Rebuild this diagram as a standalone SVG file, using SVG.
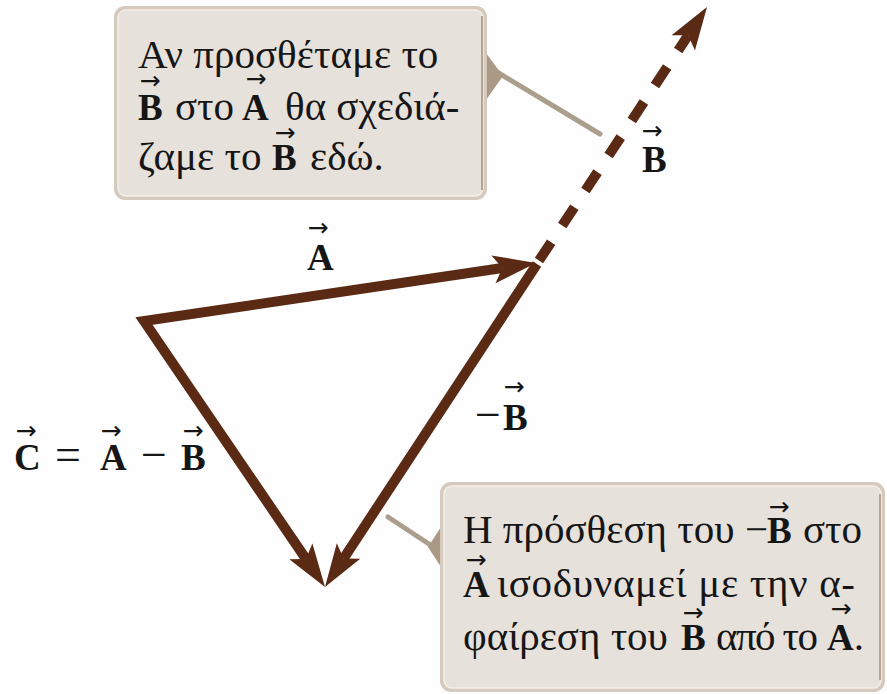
<svg xmlns="http://www.w3.org/2000/svg" xmlns:xlink="http://www.w3.org/1999/xlink" width="887" height="694" viewBox="0 0 887 694">
  <defs>
    <style>
      .vec { fill: none; stroke: #5b2a15; stroke-width: 10; stroke-linejoin: miter; stroke-linecap: butt; }
      .dash { stroke-dasharray: 22 20; }
      .head { fill: #5b2a15; }
      .leader { fill: none; stroke: #ab9e8c; stroke-width: 5; stroke-linecap: round; }
      .ptr { fill: #a99985; }
      .boxo { fill: #d5cabd; }
      .boxi { fill: #e7e1db; stroke: #f3efea; stroke-width: 1.5; }
      .edge { fill: none; stroke: #b3a592; stroke-width: 2; }
      .t { font-family: "Liberation Serif", "DejaVu Serif", serif; font-size: 41px; fill: #161616; }
      .b { font-size: 37px; font-weight: bold; }
      .lab { font-family: "Liberation Serif", "DejaVu Serif", serif; font-size: 37px; fill: #161616; font-weight: bold; }
      .op { font-weight: normal; font-size: 46px; }
      .arr { font-family: "DejaVu Sans", sans-serif; font-size: 25px; fill: #161616; text-anchor: middle; }
    </style>
    <path id="head" class="head" d="M0,0 L-43,-14 L-34,0 L-43,14 Z"/>
  </defs>

  <rect x="0" y="0" width="887" height="694" fill="#fefefe"/>

  <!-- connectors: vectors and leader lines -->
  <g id="connectors">
    <polyline id="vec-A-C" class="vec" points="502.4,268 144,321 305.9,558.9"/>
    <line id="vec-minusB" class="vec" x1="537" y1="264" x2="343.6" y2="558.5"/>
    <line id="vec-B" class="vec dash" x1="539" y1="260.5" x2="688.2" y2="35.3"/>
    <use xlink:href="#head" href="#head" transform="translate(536,263) rotate(-8.4)"/>
    <use xlink:href="#head" href="#head" transform="translate(325,587) rotate(55.8)"/>
    <use xlink:href="#head" href="#head" transform="translate(325,587) rotate(123.2)"/>
    <use xlink:href="#head" href="#head" transform="translate(707,7) rotate(-56.5)"/>
    <line id="leader-top" class="leader" x1="497" y1="72" x2="600" y2="134"/>
    <line id="leader-bottom" class="leader" x1="388" y1="517" x2="432" y2="546"/>
  </g>

  <!-- callout top -->
  <g id="note-top">
    <path class="ptr" d="M486,53 L503,76 L486,100 Z"/>
    <rect class="boxo" x="114" y="6" width="373" height="194" rx="11"/>
    <rect class="boxi" x="118" y="10" width="365" height="186" rx="8"/>
    <path class="edge" d="M482,16 L482,190"/>
    <text class="t" y="68"><tspan x="138">Αν προσθέταμε το</tspan></text>
    <text class="t" y="120"><tspan x="138" class="b">B</tspan><tspan x="175">στο</tspan><tspan x="242" class="b">A</tspan><tspan x="285">θα σχεδιά-</tspan></text>
    <text class="t" y="170"><tspan x="138">ζαμε το</tspan><tspan x="272" class="b">B</tspan><tspan x="310">εδώ.</tspan></text>
    <text class="arr" x="150" y="89">→</text>
    <text class="arr" x="256" y="87">→</text>
    <text class="arr" x="285" y="141">→</text>
  </g>

  <!-- callout bottom -->
  <g id="note-bottom">
    <path class="ptr" d="M441,527 L428,547 L441,567 Z"/>
    <rect class="boxo" x="440" y="482" width="445" height="210" rx="11"/>
    <rect class="boxi" x="444" y="486" width="437" height="202" rx="8"/>
    <path class="edge" d="M880,494 L880,680"/>
    <text class="t" y="543"><tspan x="463">Η πρόσθεση του</tspan><tspan x="745">−</tspan><tspan x="767" class="b">B</tspan><tspan x="803">στο</tspan></text>
    <text class="t" y="597"><tspan x="463" class="b">A</tspan><tspan x="497" textLength="358" lengthAdjust="spacing">ισοδυναμεί με την α-</tspan></text>
    <text class="t" y="650"><tspan x="463">φαίρεση του</tspan><tspan x="681" class="b">B</tspan><tspan x="716" textLength="102" lengthAdjust="spacing">από το</tspan><tspan x="827" class="b">A</tspan><tspan>.</tspan></text>
    <text class="arr" x="779" y="515">→</text>
    <text class="arr" x="476" y="568">→</text>
    <text class="arr" x="693" y="621">→</text>
    <text class="arr" x="841" y="617">→</text>
  </g>

  <!-- labels -->
  <g id="label-A">
    <text class="lab" x="307" y="270">A</text>
    <text class="arr" x="318" y="236">→</text>
  </g>
  <g id="label-B">
    <text class="lab" x="642" y="172">B</text>
    <text class="arr" x="652" y="139">→</text>
  </g>
  <g id="label-minusB">
    <text class="lab" y="430"><tspan x="475" class="op">−</tspan><tspan x="503">B</tspan></text>
    <text class="arr" x="514" y="395">→</text>
  </g>
  <g id="label-C">
    <text class="lab" y="470"><tspan x="14">C</tspan><tspan x="55" class="op">=</tspan><tspan x="100">A</tspan><tspan x="141" class="op">−</tspan><tspan x="181">B</tspan></text>
    <text class="arr" x="26" y="439">→</text>
    <text class="arr" x="111" y="439">→</text>
    <text class="arr" x="193" y="439">→</text>
  </g>
</svg>
